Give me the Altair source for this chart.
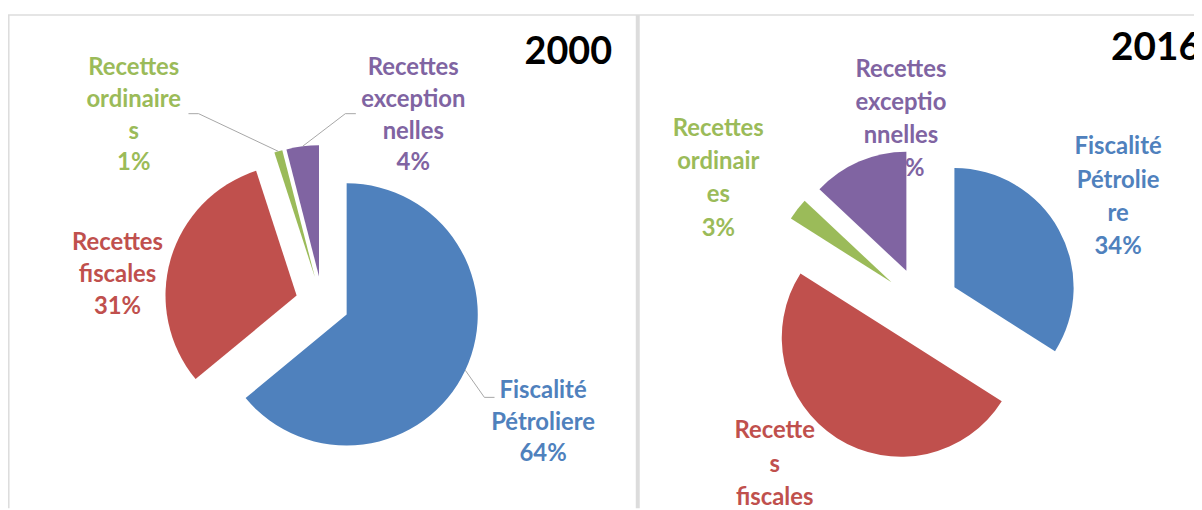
import math
import altair as alt
import pandas as pd

# ---------------- data ----------------
categories = ["Fiscalité Pétroliere", "Recettes fiscales", "Recettes ordinaires", "Recettes exceptionnelles"]
colors = ["#4F81BD", "#C0504D", "#9BBB59", "#8064A2"]
years = ["2000", "2016"]
shares_2000 = [64, 31, 1, 4]
shares_2016 = [34, 50, 3, 13]
label_lines_2000 = [["Fiscalité", "Pétroliere"], ["Recettes", "fiscales"],
                    ["Recettes", "ordinaire", "s"], ["Recettes", "exception", "nelles"]]
label_lines_2016 = [["Fiscalité", "Pétrolie", "re"], ["Recette", "s", "fiscales"],
                    ["Recettes", "ordinair", "es"], ["Recettes", "exceptio", "nnelles"]]

shares = {"2000": shares_2000, "2016": shares_2016}
label_lines = {"2000": label_lines_2000, "2016": label_lines_2016}

# ---------------- layout (pixels) ----------------
W, H = 1194, 502
FONT = "Lato"
PIE = {"2000": dict(cx=316.5, cy=295.3, r=132, explode=27),
       "2016": dict(cx=919.5, cy=297.8, r=120, explode=38)}
LABEL_POS = {"2000": [(538.7, 383.7), (110.3, 235.0), (126.6, 58.7), (408.0, 58.7)],
             "2016": [(1117.6, 138.7), (771.8, 424.7), (715.1, 120.3), (899.0, 60.3)]}
LINE_STEP = {"2000": 32.0, "2016": 33.4}
LABEL_SIZE = 24
TITLE_POS = {"2000": (520.0, 43.7), "2016": (1110.5, 38.7)}
TITLE_SIZE = {"2000": 38, "2016": 39}
# leader lines: label-side start and elbow, ends on the slice edge
LEADERS = {"2000": {0: [(489.8, 390.3), (479.6, 390.3)],
                    2: [(181.7, 104.7), (191.9, 104.7)],
                    3: [(350.2, 104.7), (339.6, 104.7)]}}
FRAME = "#DCDCDC"

color_scale = alt.Scale(domain=categories, range=colors)
X = lambda f: alt.X(f, type="quantitative", scale=None, axis=None)
Y = lambda f: alt.Y(f, type="quantitative", scale=None, axis=None)


def pie_layer(year):
    g = PIE[year]
    df = pd.DataFrame({"category": categories, "share": shares[year],
                       "order": list(range(len(categories)))})
    return (
        alt.Chart(df)
        .transform_joinaggregate(total="sum(share)")
        .transform_window(cum="sum(share)", sort=[alt.SortField("order")], frame=[None, 0])
        .transform_calculate(a0="2*PI*(datum.cum - datum.share)/datum.total")
        .transform_calculate(a1="2*PI*datum.cum/datum.total")
        .transform_calculate(mid="(datum.a0 + datum.a1)/2")
        .transform_calculate(px=f"{g['cx']} + {g['explode']}*sin(datum.mid)")
        .transform_calculate(py=f"{g['cy']} - {g['explode']}*cos(datum.mid)")
        .mark_arc(radius=g["r"])
        .encode(
            x=X("px"), y=Y("py"),
            theta=alt.Theta("a0:Q", scale=None),
            theta2="a1:Q",
            color=alt.Color("category:N", scale=color_scale, legend=None),
        )
    )


# label rows
rows = []
for year in years:
    step = LINE_STEP[year]
    for i, cat in enumerate(categories):
        lines = label_lines[year][i] + [f"{shares[year][i]}%"]
        lx, ly = LABEL_POS[year][i]
        for j, t in enumerate(lines):
            rows.append({"category": cat, "text": t, "x": lx, "y": ly + j * step})
labels_df = pd.DataFrame(rows)

labels = alt.Chart(labels_df).mark_text(
    font=FONT, fontSize=LABEL_SIZE, fontWeight="bold", align="center", baseline="middle"
).encode(
    x=X("x"), y=Y("y"), text="text:N",
    color=alt.Color("category:N", scale=color_scale, legend=None),
)

# leader lines
lrows = []
for year, spec in LEADERS.items():
    g = PIE[year]
    vals = shares[year]
    tot = sum(vals)
    for i, pts in spec.items():
        a0 = 2 * math.pi * sum(vals[:i]) / tot
        a1 = 2 * math.pi * sum(vals[: i + 1]) / tot
        m = (a0 + a1) / 2
        d = g["explode"] + g["r"]
        end = (g["cx"] + d * math.sin(m), g["cy"] - d * math.cos(m))
        for k, (px, py) in enumerate(pts + [end]):
            lrows.append({"key": f"{year}-{i}", "k": k, "x": px, "y": py})
leaders = alt.Chart(pd.DataFrame(lrows)).mark_line(color="#A6A6A6", strokeWidth=1).encode(
    x=X("x"), y=Y("y"), detail="key:N", order="k:Q"
)

title_layers = []
for yr in years:
    tdf = pd.DataFrame({"text": [yr], "x": [TITLE_POS[yr][0]], "y": [TITLE_POS[yr][1]]})
    title_layers.append(
        alt.Chart(tdf).mark_text(
            font=FONT, fontSize=TITLE_SIZE[yr], fontWeight="bold", align="left",
            baseline="middle", color="black"
        ).encode(x=X("x"), y=Y("y"), text="text:N")
    )

# panel frames
frame_top = alt.Chart().mark_rule(color=FRAME, strokeWidth=1.5).encode(
    x=alt.value(0), x2=alt.value(W), y=alt.value(5.3))
frame_left = alt.Chart().mark_rule(color=FRAME, strokeWidth=1.5).encode(
    x=alt.value(0.8), y=alt.value(5.3), y2=alt.value(H))
frame_mid = alt.Chart().mark_rect(color=FRAME).encode(
    x=alt.value(632), x2=alt.value(636), y=alt.value(5.3), y2=alt.value(H))

chart = alt.layer(
    frame_top, frame_left, frame_mid, labels, pie_layer("2000"), pie_layer("2016"), leaders,
    *title_layers
).properties(
    width=W, height=H, padding=0, background="white",
    autosize=alt.AutoSizeParams(type="none")
).configure_view(stroke="transparent", strokeWidth=0)

chart.save("out.html", embed_options={"renderer": "svg", "actions": False})
